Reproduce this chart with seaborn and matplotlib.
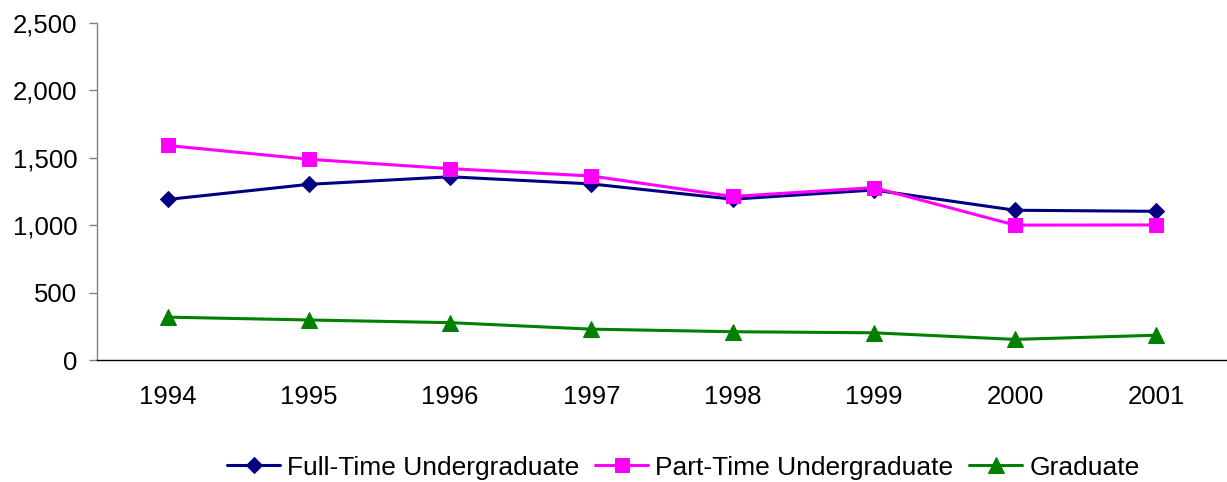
import numpy as np
import pandas as pd
import matplotlib
matplotlib.use('Agg')
import matplotlib.pyplot as plt
import seaborn as sns

# data
years = ['1994', '1995', '1996', '1997', '1998', '1999', '2000', '2001']
full_time = [1190, 1302, 1358, 1305, 1192, 1260, 1110, 1102]
part_time = [1590, 1488, 1418, 1364, 1212, 1278, 1000, 1001]
graduate = [318, 297, 277, 229, 210, 202, 153, 184]

series_names = ['Full-Time Undergraduate', 'Part-Time Undergraduate', 'Graduate']
series_values = [full_time, part_time, graduate]
colors = ['#000080', '#FF00FF', '#008000']
markers = ['D', 's', '^']
marker_sizes = [8.5, 10.5, 11]

sns.set_style('white')
plt.rcParams['font.family'] = ['Liberation Sans', 'DejaVu Sans']
plt.rcParams['text.color'] = 'black'
plt.rcParams['xtick.color'] = 'black'
plt.rcParams['ytick.color'] = 'black'

fig = plt.figure(figsize=(12.27, 4.82), dpi=100)
ax = fig.add_axes([0.079, 0.253, 0.921, 0.700])

x_pos = np.arange(len(years))
for name, vals, col, mk, ms in zip(series_names, series_values, colors, markers, marker_sizes):
    df = pd.DataFrame({'x': x_pos, 'y': vals})
    sns.lineplot(data=df, x='x', y='y', ax=ax, color=col, marker=mk,
                 markersize=ms, markeredgecolor=col, linewidth=2.2, label=name)

ax.set_xlim(-0.5, len(years) - 0.5)
ax.set_ylim(0, 2500)
ax.set_yticks(np.arange(0, 2501, 500))
ax.set_yticklabels([f'{v:,}' for v in range(0, 2501, 500)])
ax.set_xticks(x_pos)
ax.set_xticklabels(years)
ax.set_xlabel('')
ax.set_ylabel('')

ax.tick_params(axis='y', length=6, width=1, color='#808080', labelcolor='black',
               pad=8, labelsize=18.5, left=True)
ax.tick_params(axis='x', length=0, pad=18, labelsize=18.5, labelcolor='black')

for side in ['top', 'right']:
    ax.spines[side].set_visible(False)
ax.spines['left'].set_color('#808080')
ax.spines['left'].set_linewidth(1)
ax.spines['bottom'].set_color('black')
ax.spines['bottom'].set_linewidth(1)

handles, labels = ax.get_legend_handles_labels()
ax.legend_.remove()
fig.legend(handles, labels, loc='center', bbox_to_anchor=(0.557, 0.030), ncol=3,
           frameon=False, fontsize=19, handlelength=2.0, handletextpad=0.27,
           columnspacing=0.6, labelcolor='black')

fig.savefig('out.png', dpi=100)
